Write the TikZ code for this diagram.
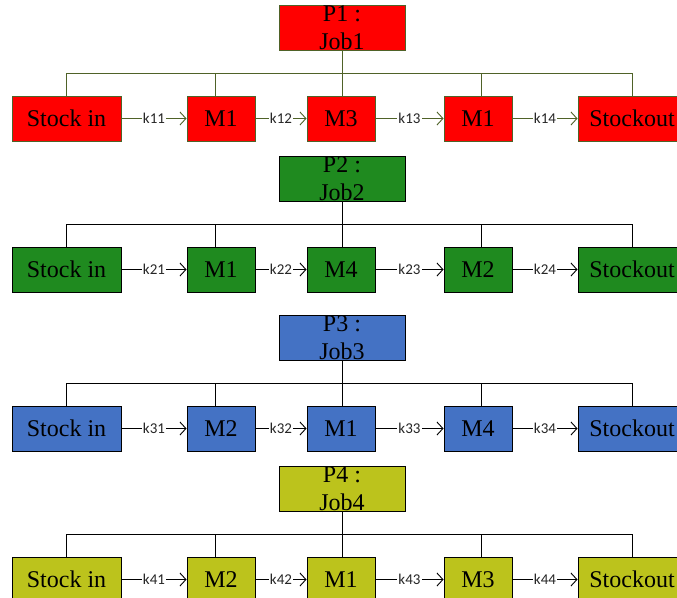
\documentclass[tikz,border=0pt]{standalone}
\usepackage{fontspec}
\setmainfont{Liberation Serif}
\newfontfamily\labfont{Carlito}
\usetikzlibrary{arrows.meta}
\definecolor{cRed}{HTML}{FF0000}
\definecolor{cGreen}{HTML}{1F8A1F}
\definecolor{cBlue}{HTML}{4472C4}
\definecolor{cYel}{HTML}{BCC31C}
\definecolor{cOlive}{HTML}{4F6228}
\definecolor{cDark}{HTML}{262626}
\newcommand{\jobrow}[7]{%
  % #1 row, #2 top y, #3 fill, #4 line colour, #5 #6 #7 machines
  \begin{scope}[every node/.append style={}, line width=0.9pt]
    \node[topbox, fill=#3, draw=#4] (t#1) at (342,{#2+22.5}) {P#1 :\\Job#1};
    \node[box, fill=#3, draw=#4, minimum width=109] (s#1) at (66.5,{#2+113.5}) {Stock in};
    \node[box, fill=#3, draw=#4, minimum width=68] (a#1) at (221,{#2+113.5}) {#5};
    \node[box, fill=#3, draw=#4, minimum width=68] (b#1) at (341,{#2+113.5}) {#6};
    \node[box, fill=#3, draw=#4, minimum width=68] (c#1) at (478,{#2+113.5}) {#7};
    \node[box, fill=#3, draw=#4, minimum width=108] (o#1) at (632,{#2+113.5}) {Stockout};
    \coordinate (bus#1) at (66.5,{#2+68});
    \draw[conn, draw=#4] (t#1.south) -- (t#1.south |- b#1.north);
    \draw[conn, draw=#4] (s#1.north) -- (s#1.north |- bus#1) -- (o#1.north |- bus#1) -- (o#1.north);
    \draw[conn, draw=#4] ([xshift=-6pt]a#1.north) -- ([xshift=-6pt]a#1.north |- bus#1);
    \draw[conn, draw=#4] ([xshift=3pt]c#1.north) -- ([xshift=3pt]c#1.north |- bus#1);
    \draw[arr, draw=#4] (s#1) -- node[klab]{k#11} (a#1);
    \draw[arr, draw=#4] (a#1) -- node[klab]{k#12} (b#1);
    \draw[arr, draw=#4] (b#1) -- node[klab]{k#13} (c#1);
    \draw[arr, draw=#4] (c#1) -- node[klab]{k#14} (o#1);
  \end{scope}%
}
\begin{document}
\begin{tikzpicture}[x=1pt,y=-1pt,
  box/.style={rectangle, inner sep=0pt, minimum height=45, font=\fontsize{24}{28}\selectfont, text=black},
  topbox/.style={rectangle, inner sep=0pt, minimum width=126, minimum height=45, align=center, font=\fontsize{24}{28}\selectfont, text=black},
  conn/.style={line width=0.9pt},
  arr/.style={line width=0.9pt, -{Straight Barb[length=6pt,width=13pt,line width=0.9pt]}},
  klab/.style={fill=white, inner sep=1pt, font=\labfont\fontsize{15}{15}\selectfont, text=cDark}]
\useasboundingbox (0,0) rectangle (677,597);
\jobrow{1}{5}{cRed}{cOlive}{M1}{M3}{M1}
\jobrow{2}{156}{cGreen}{black}{M1}{M4}{M2}
\jobrow{3}{315}{cBlue}{black}{M2}{M1}{M4}
\jobrow{4}{466}{cYel}{black}{M2}{M1}{M3}
\end{tikzpicture}
\end{document}
